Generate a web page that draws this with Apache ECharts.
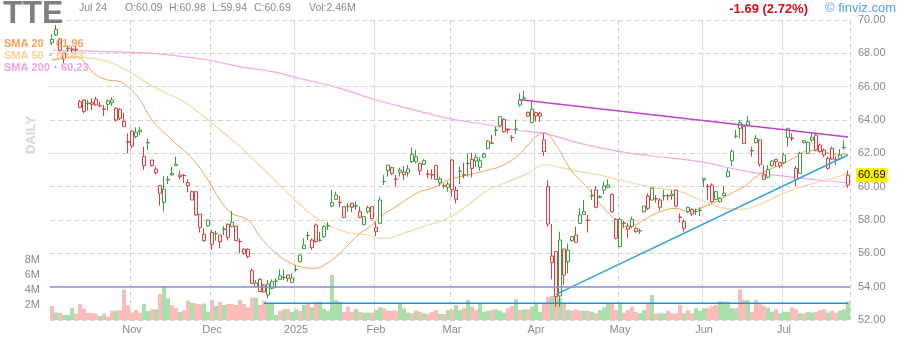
<!DOCTYPE html>
<html><head><meta charset="utf-8">
<script src="https://cdn.jsdelivr.net/npm/echarts/dist/echarts.min.js"></script>
<style>html,body{margin:0;padding:0;background:#fff}#c{width:900px;height:340px}</style>
</head><body><div id="c"></div>
<script>
// ---------- header / legend text ----------
const ticker = 'TTE';
const headerDate = 'Jul 24';
const headerOHLC = ['O:60.09', 'H:60.98', 'L:59.94', 'C:60.69'];
const headerVol = 'Vol:2.46M';
const changeText = '-1.69 (2.72%)';
const brandText = '\u00a9 finviz.com';
const smaNames = ['SMA 20', 'SMA 50', 'SMA 200'];
const smaLast = ['61.96', '60.83', '60.23'];
const monthNames = ['Jan','Feb','Mar','Apr','May','Jun','Jul','Aug','Sep','Oct','Nov','Dec'];

// ---------- trading days (categories) ----------
const holidays = ['2024-11-28','2024-12-25','2025-01-01','2025-01-09','2025-01-20','2025-02-17','2025-04-18','2025-05-26','2025-06-19','2025-07-04'];
const firstDay = '2024-10-04', lastDay = '2025-07-24';
function buildDates() {
  const out = [];
  let d = new Date(firstDay + 'T00:00:00Z');
  const end = new Date(lastDay + 'T00:00:00Z');
  while (d <= end) {
    const w = d.getUTCDay();
    const s = d.toISOString().slice(0, 10);
    if (w !== 0 && w !== 6 && holidays.indexOf(s) < 0) out.push(s);
    d = new Date(d.getTime() + 86400000);
  }
  return out;
}
const dates = buildDates();

// ---------- price data ----------
const opens = [68.84,69.10,68.86,67.66,68.28,68.24,68.24,65.10,65.20,65.02,
65.04,65.24,64.84,64.66,65.14,65.20,64.00,64.64,63.90,62.70,
63.34,63.26,63.40,61.26,62.62,61.60,60.84,60.06,59.06,60.40,
60.80,61.36,60.60,60.68,60.24,59.20,59.70,58.34,56.76,57.64,
57.26,57.18,57.10,57.42,57.74,57.86,57.64,56.72,56.24,56.24,
54.96,54.00,54.44,54.10,53.50,53.90,54.32,54.64,54.54,54.70,
54.24,55.02,55.90,56.28,57.08,56.34,57.70,56.78,57.00,57.64,
58.84,59.24,59.04,58.80,58.82,59.00,58.82,58.50,57.72,58.50,
58.80,57.30,57.80,60.32,61.30,61.14,60.46,60.86,60.72,60.84,
61.94,61.50,61.40,61.34,60.76,60.72,61.28,60.24,60.06,59.96,
61.60,59.24,60.92,60.72,61.38,61.64,61.76,61.16,61.76,62.30,
62.62,63.38,63.66,63.30,63.42,62.96,63.44,65.20,65.30,64.46,
63.84,64.24,64.24,62.80,60.00,55.44,56.10,53.44,56.26,55.50,
57.00,57.10,58.30,58.34,58.00,59.44,59.80,59.36,59.80,59.96,
59.54,58.04,56.40,57.82,57.64,58.04,57.50,57.34,58.50,59.44,
59.20,59.28,58.76,59.44,59.46,59.56,59.80,58.18,57.50,58.76,
58.64,58.50,58.58,60.40,60.02,60.10,59.70,59.10,59.46,60.60,
61.56,63.02,63.84,63.60,63.70,62.16,62.90,62.80,60.70,60.56,
61.26,61.64,61.24,61.44,62.96,62.92,61.10,60.80,62.76,62.00,
62.80,63.10,62.50,62.20,61.10,62.30,61.62,61.70,62.34,60.09];
const highs = [69.16,69.70,68.90,68.10,68.50,68.40,68.44,65.20,65.24,65.20,
65.30,65.40,65.10,64.90,65.24,65.36,64.76,64.70,64.44,63.20,
63.40,63.56,63.60,62.40,62.90,61.60,61.20,60.10,60.64,60.64,
61.20,61.80,60.96,60.76,60.44,59.76,59.70,58.34,57.50,58.04,
57.40,57.36,57.10,57.64,57.80,58.52,57.64,56.90,56.30,56.30,
55.10,54.40,54.50,54.16,54.40,54.44,54.50,55.04,55.04,54.70,
54.80,55.30,55.90,56.90,57.30,56.90,57.80,57.30,57.70,57.90,
59.80,59.70,59.44,58.80,59.00,59.04,59.10,58.80,58.20,58.86,
58.80,57.86,59.40,60.70,61.30,61.20,60.70,61.14,61.24,61.30,
62.36,62.20,61.44,61.64,61.00,61.04,61.28,60.60,60.20,60.30,
61.64,60.00,61.24,61.44,62.00,62.04,61.96,61.76,62.04,62.80,
63.10,63.60,64.24,64.10,63.50,63.10,64.04,65.60,65.76,64.50,
65.10,64.50,64.50,63.20,60.40,57.76,56.10,57.30,56.26,56.60,
57.04,57.60,58.70,59.20,58.30,59.84,60.04,59.50,60.30,60.44,
59.60,58.10,58.16,57.96,57.80,58.20,57.60,57.50,58.84,59.60,
59.96,59.50,59.30,59.80,59.56,59.80,59.84,58.40,58.04,58.80,
58.70,58.70,58.76,60.50,60.16,60.20,59.76,59.36,60.04,61.10,
62.24,63.40,64.00,63.64,64.24,62.40,63.10,62.84,61.30,61.30,
61.60,61.66,61.50,62.04,63.50,63.20,61.24,62.10,62.80,62.70,
63.20,63.20,62.60,62.30,61.80,62.40,61.80,62.24,62.80,60.98];
const lows = [68.50,69.04,68.08,67.42,68.08,68.04,68.00,64.70,64.40,64.56,
64.60,64.84,64.76,64.24,64.56,64.84,63.90,64.00,63.60,62.00,
62.30,62.90,63.10,61.00,62.20,61.20,60.70,58.86,58.50,60.16,
60.66,61.26,60.44,60.24,59.66,59.20,58.26,57.24,56.70,57.60,
56.20,56.76,56.30,57.10,56.76,57.56,56.76,56.00,55.90,55.70,
54.16,53.96,53.70,53.64,53.30,53.84,53.90,54.40,54.40,54.30,
54.24,54.90,55.44,56.26,56.80,56.20,56.64,56.70,56.90,57.40,
58.76,59.20,58.76,58.10,58.50,58.48,58.60,58.10,57.68,58.40,
58.04,57.04,57.80,60.10,60.60,60.70,60.00,60.60,60.40,60.60,
61.44,61.40,60.70,61.30,60.50,60.44,60.40,60.04,59.90,59.70,
59.40,59.00,60.16,60.50,60.60,60.56,61.16,60.96,61.70,62.24,
62.60,63.04,63.60,63.24,63.20,62.70,63.16,64.80,65.24,64.20,
63.80,63.90,63.90,61.84,57.60,54.44,52.80,52.80,54.10,54.80,
56.70,56.64,57.76,58.30,57.24,59.20,58.70,59.30,59.56,59.90,
58.44,56.84,56.36,57.50,56.90,57.50,57.24,57.16,58.44,58.60,
59.16,59.04,58.56,59.16,59.16,59.20,58.76,57.84,57.30,58.40,
58.24,58.30,58.24,59.96,59.20,59.04,59.20,59.04,59.40,60.56,
61.24,62.90,62.90,62.56,63.60,61.80,62.60,61.20,60.40,60.50,
61.20,61.20,61.10,61.36,62.40,62.74,60.04,60.76,62.60,61.96,
62.70,62.16,62.04,61.76,61.00,61.60,61.30,61.64,62.20,59.94];
const closes = [68.64,69.44,68.20,68.02,68.32,68.26,68.20,64.76,64.50,64.98,
64.94,64.90,64.86,64.64,64.94,65.04,64.70,64.10,63.60,62.66,
62.44,63.00,63.30,61.80,62.66,61.26,61.06,59.60,59.86,60.44,
60.70,61.26,60.70,60.66,60.06,59.70,58.30,57.56,57.14,58.00,
56.54,57.20,56.70,57.46,56.96,57.60,56.76,56.70,56.00,55.80,
54.20,54.22,53.70,53.68,54.16,54.30,54.34,54.44,54.56,54.50,
54.52,55.04,55.50,56.50,57.06,56.80,56.70,56.80,57.60,57.66,
59.04,59.50,59.06,58.16,58.80,58.76,58.86,58.16,58.20,58.74,
58.08,57.56,59.20,60.30,60.96,60.80,60.44,61.00,60.88,61.06,
61.50,61.80,60.96,61.56,60.74,60.70,60.44,60.46,60.04,60.16,
59.82,59.78,60.94,60.70,61.40,61.10,61.54,61.56,61.96,62.74,
62.60,63.40,64.20,64.04,63.40,62.94,63.46,64.90,65.32,64.24,
64.64,64.44,64.40,62.10,57.76,55.84,53.40,56.80,54.70,56.20,
56.76,56.66,57.80,58.50,57.96,59.46,58.76,59.40,60.04,60.10,
58.50,56.90,58.04,57.80,57.44,57.60,57.30,57.36,58.84,58.70,
59.90,59.26,59.20,59.46,59.44,59.46,58.84,58.16,57.90,58.50,
58.36,58.52,58.60,60.50,60.00,59.10,59.24,59.30,59.60,60.90,
62.10,63.04,63.50,62.60,63.90,62.14,62.64,61.34,60.44,61.04,
61.54,61.50,61.44,61.90,63.50,62.90,60.44,62.00,62.64,62.66,
62.96,62.20,62.10,61.90,61.70,61.66,61.60,61.90,62.38,60.69];
const prevCloseBeforeFirst = 68.50;

// volume in millions
const volumes = [1.87,1.00,0.95,0.67,0.67,1.60,0.85,2.13,1.50,0.95,
0.90,0.85,0.53,0.85,0.45,1.24,1.24,1.30,4.05,1.95,
1.00,1.33,0.98,2.13,1.20,1.45,1.42,3.47,4.40,2.90,
1.95,1.60,1.05,1.30,2.60,2.30,2.20,2.10,2.22,1.11,
2.67,1.87,2.44,2.00,2.13,2.13,2.00,2.67,2.13,1.69,
3.00,2.98,2.00,2.58,2.22,2.22,0.67,1.24,1.42,1.47,
1.10,1.42,1.24,2.00,2.13,1.69,2.44,2.44,1.47,1.24,
6.00,2.67,2.44,1.10,1.78,1.10,1.47,1.10,0.98,0.98,
0.98,1.33,1.69,1.56,1.24,1.24,1.24,2.13,1.56,0.98,
0.89,1.24,1.10,0.89,0.80,1.10,1.33,0.80,0.80,1.33,
1.42,2.00,1.33,1.56,2.67,1.78,1.33,2.13,1.10,1.24,
1.33,1.42,1.24,0.98,1.56,1.87,2.76,1.33,1.42,1.42,
1.78,2.22,1.10,2.13,3.10,3.20,3.10,2.90,2.13,1.33,
1.24,1.42,1.24,1.24,1.24,1.10,0.90,1.33,1.69,2.31,
2.13,1.33,2.31,0.98,1.33,1.78,1.10,0.90,1.33,2.22,
3.33,0.89,0.89,0.89,1.24,0.89,0.89,2.00,0.89,1.33,
0.89,1.56,1.24,1.56,1.56,1.87,2.00,2.53,2.44,2.44,
1.56,1.56,4.09,2.67,2.67,1.10,2.67,2.13,1.87,1.64,
1.10,1.42,0.89,1.10,1.10,1.69,1.42,0.89,0.89,1.10,
0.98,1.10,1.33,1.42,0.98,1.24,0.98,1.24,1.42,2.46];

// moving averages: [day index, value]
const sma20Pts = [[0,67.6],[3,67.7],[6,67.8],[8,67.5],[11,66.7],[14,66.4],[17,66.3],[19,66.0],[22,65.2],[25,64.0],[30,62.8],[35,61.7],[39,60.4],[42,59.2],[45,58.4],[49,58.0],[52,57.0],[56,56.0],[59,55.5],[62,55.2],[66,55.1],[68,55.3],[71,55.8],[74,56.5],[77,57.2],[80,57.7],[82,58.2],[86,58.8],[89,59.3],[92,59.7],[96,60.0],[99,60.4],[104,60.7],[109,61.0],[112,61.2],[116,61.76],[119,62.5],[121,63.0],[123,63.24],[126,62.5],[130,60.9],[134,59.9],[138,58.7],[141,58.0],[144,57.6],[148,58.0],[151,58.4],[156,58.7],[159,58.5],[163,58.8],[166,59.1],[169,59.5],[173,60.0],[176,60.6],[179,61.0],[183,61.4],[186,61.8],[189,62.16],[193,62.1],[196,61.9],[199,61.96]];
const sma50Pts = [[0,67.64],[7,67.76],[14,67.5],[20,66.8],[26,65.9],[33,65.1],[40,63.8],[47,62.4],[50,61.7],[54,60.8],[59,59.6],[64,58.5],[69,57.7],[74,57.24],[79,57.1],[82,56.9],[85,56.96],[89,57.3],[94,57.7],[99,58.1],[104,58.9],[109,59.8],[114,60.3],[119,60.8],[123,61.3],[127,61.16],[132,60.9],[137,60.7],[142,60.4],[150,59.96],[157,59.7],[162,59.2],[167,58.76],[172,58.64],[176,58.84],[181,59.4],[184,59.7],[187,59.96],[191,60.24],[196,60.56],[199,60.83]];
const sma200Pts = [[0,68.2],[14,68.1],[25,68.0],[39,67.6],[47,67.2],[55,66.9],[62,66.5],[72,65.9],[81,65.2],[89,64.7],[99,64.1],[109,63.7],[116,63.4],[123,63.2],[132,62.6],[142,62.1],[150,61.84],[162,61.5],[174,60.9],[184,60.6],[191,60.4],[199,60.23]];

// drawn lines: [day index, price]
const resistanceLine = [[117,65.22],[199,62.98]];
const supportLine = [[126,53.54],[199,61.9]];
const levelLine53 = [[53,53.0],[199,53.0]];
const levelPrice54 = 54.0;

// ---------- styles ----------
const GREEN = '#3c9c3c', RED = '#e23d3d';
const VOL_UP = '#a9dfa9', VOL_DN = '#fbbcbc';
const FONT = '"Liberation Sans", Arial, sans-serif';
const GRID_DASH = {color: '#d2d2d2', type: [5, 3], width: 1};

const candleData = opens.map((o, i) => {
  const c = closes[i];
  const prev = i ? closes[i - 1] : prevCloseBeforeFirst;
  const col = c >= prev ? GREEN : RED;
  return {value: [o, c, lows[i], highs[i]],
          itemStyle: {color: '#ffffff', color0: col, borderColor: col, borderColor0: col}};
});
const volData = volumes.map((v, i) => ({value: v, itemStyle: {color: closes[i] >= opens[i] ? VOL_UP : VOL_DN}}));
const lastClose = closes[closes.length - 1];

function isMonthStart(i) {
  return i > 0 && dates[i].slice(5, 7) !== dates[i - 1].slice(5, 7);
}

const chart = echarts.init(document.getElementById('c'), null, {renderer: 'canvas'});

function txt(x, y, text, color, size, weight, align, extra) {
  return Object.assign({
    type: 'text', x: x, y: y, z: 100,
    style: {text: text, fill: color, font: (weight || 'normal') + ' ' + size + 'px ' + FONT,
            align: align || 'left', textAlign: align || 'left',
            verticalAlign: 'middle', textVerticalAlign: 'middle'}
  }, extra || {});
}

const hdrX = [125, 169, 212, 254];
const graphics = [
  txt(3, 14, ticker, '#7f7f7f', 32, 'bold'),
  txt(79, 8, headerDate, '#8a8a8a', 10.5),
  ...headerOHLC.map((t, k) => txt(hdrX[k], 8, t, '#8a8a8a', 10.5)),
  txt(309, 8, headerVol, '#8a8a8a', 10.5),
  txt(808, 9, changeText, '#d0101a', 13, 'bold', 'right'),
  txt(825, 8, brandText, '#4ea3ee', 13),
  txt(4, 44, smaNames[0], '#f8a35e', 11, 'bold'),
  txt(4, 56, smaNames[1], '#f2d596', 11, 'bold'),
  txt(4, 68, smaNames[2], '#f2a3e2', 11, 'bold'),
  txt(49, 44, '\u00b7', '#999', 11, 'bold'),
  txt(49, 56, '\u00b7', '#999', 11, 'bold'),
  txt(54, 68, '\u00b7', '#999', 11, 'bold'),
  txt(56, 44, smaLast[0], '#f8a35e', 11, 'bold'),
  txt(56, 56, smaLast[1], '#f2d596', 11, 'bold'),
  txt(61, 68, smaLast[2], '#f2a3e2', 11, 'bold'),
  txt(31, 135, 'DAILY', '#d6d6d6', 13, 'bold', 'center', {rotation: Math.PI / 2})
];

const lineSeries = (data, color, width, z) => ({
  type: 'line', data: data, xAxisIndex: 0, yAxisIndex: 0, showSymbol: false, symbol: 'none',
  smooth: 0.4, lineStyle: {color: color, width: width}, z: z, silent: true
});

chart.setOption({
  animation: false,
  backgroundColor: '#ffffff',
  grid: {left: 50, right: 50, top: 20, bottom: 20, containLabel: false},
  xAxis: {
    type: 'category', data: dates, boundaryGap: true,
    axisLine: {show: false}, axisTick: {show: false},
    axisLabel: {
      interval: (i) => isMonthStart(i), color: '#8a8a8a', fontSize: 11, fontFamily: FONT, margin: 4,
      formatter: (v) => { const m = +v.slice(5, 7); return m === 1 ? v.slice(0, 4) : monthNames[m - 1]; }
    },
    splitLine: {show: true, interval: (i) => isMonthStart(i), lineStyle: GRID_DASH}
  },
  yAxis: [{
    type: 'value', position: 'right', min: 52, max: 70, interval: 2, scale: true,
    axisLine: {show: false}, axisTick: {show: false},
    axisLabel: {color: '#8a8a8a', fontSize: 11, fontFamily: FONT, margin: 8, formatter: (v) => v.toFixed(2)},
    splitLine: {show: true, lineStyle: GRID_DASH}
  }, {
    type: 'value', position: 'left', min: 0, max: 40, interval: 2,
    axisLine: {show: false}, axisTick: {show: false}, splitLine: {show: false},
    axisLabel: {color: '#8a8a8a', fontSize: 11, fontFamily: FONT, margin: 10,
                formatter: (v) => (v > 0 && v <= 8) ? v + 'M' : ''}
  }],
  graphic: graphics,
  series: [
    {type: 'bar', xAxisIndex: 0, yAxisIndex: 1, data: volData, barCategoryGap: '0%', z: 1, silent: true},
    lineSeries(sma200Pts, '#f3a8e6', 1.2, 2),
    lineSeries(sma50Pts, '#f4d9a4', 1.2, 2),
    lineSeries(sma20Pts, '#f7a15a', 1, 2),
    {
      type: 'candlestick', xAxisIndex: 0, yAxisIndex: 0, data: candleData, barWidth: 3, z: 3,
      itemStyle: {borderWidth: 1},
      markLine: {
        silent: true, symbol: ['none', 'none'], animation: false,
        data: [
          {yAxis: levelPrice54, lineStyle: {color: '#8c8cdc', width: 1.5, type: 'solid'}, label: {show: false}}
        ]
      }
    },
    {
      type: 'line', xAxisIndex: 0, yAxisIndex: 0, data: [], z: 10, silent: true,
      markLine: {
        silent: true, symbol: ['none', 'none'], animation: false,
        lineStyle: {color: 'rgba(255,255,255,0)', width: 1, type: 'solid'},
        label: {show: true, position: 'end', distance: 6, formatter: lastClose.toFixed(2),
                color: '#000000', backgroundColor: '#fff000', padding: [2, 2, 1, 2],
                fontSize: 11, fontFamily: FONT},
        data: [{yAxis: lastClose}]
      }
    },
    lineSeries(levelLine53, '#1f8fd6', 1.5, 4),
    lineSeries(resistanceLine, '#c043cc', 1.5, 4),
    lineSeries(supportLine, '#2ea3e8', 1.5, 4)
  ]
});
</script></body></html>
